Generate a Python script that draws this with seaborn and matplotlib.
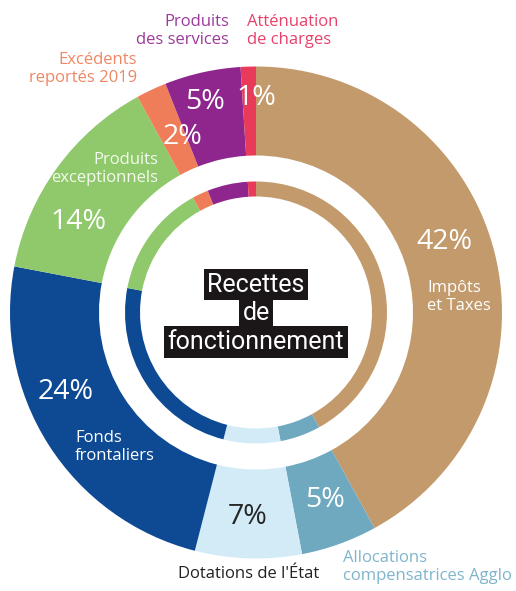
import matplotlib
matplotlib.use("Agg")
import matplotlib.pyplot as plt
import seaborn as sns

categories = ["Impôts et Taxes", "Allocations compensatrices Agglo", "Dotations de l'État",
              "Fonds frontaliers", "Produits exceptionnels", "Excédents reportés 2019",
              "Produits des services", "Atténuation de charges"]
values = [42, 5, 7, 24, 14, 2, 5, 1]
pct_labels = ["42%", "5%", "7%", "24%", "14%", "2%", "5%", "1%"]
colors = ["#c39a6c", "#6fa9c0", "#d3ebf6", "#0e4a94", "#8fc96b", "#ef7d5a", "#8e268d", "#ea3a5a"]

sns.set_theme(style="white")
plt.rcParams['font.family'] = ['Open Sans', 'DejaVu Sans']
palette = sns.color_palette(colors)

W, H = 516, 591
fig = plt.figure(figsize=(W / 100, H / 100), dpi=100)
ax = fig.add_axes([0, 0, 1, 1])

cx, cy = 256, 312.5
def Y(y):
    return H - y

ax.pie(values, colors=palette, startangle=90, counterclock=False, radius=246,
       center=(cx, Y(cy)), wedgeprops=dict(width=89, linewidth=0))
ax.pie(values, colors=palette, startangle=90, counterclock=False, radius=131,
       center=(cx, Y(cy)), wedgeprops=dict(width=15, linewidth=0))
ax.set_xlim(0, W)
ax.set_ylim(0, H)
ax.set_aspect('equal')
ax.axis('off')

# percentage labels (x, y in pixel coords from top)
pct_pos = [(444, 242), (325, 500), (248, 517), (66, 392), (78, 222), (182, 137), (205, 102), (256, 98)]
pct_colors = ["white", "white", "#262626", "white", "white", "white", "white", "white"]
for lab, (x, y), c in zip(pct_labels, pct_pos, pct_colors):
    ax.text(x, Y(y), lab, color=c, fontsize=20.5, ha='center', va='center')

# category labels
lab_fs = 12
def txt(x, y, s, color, ha):
    ax.text(x, Y(y), s, color=color, fontsize=lab_fs, ha=ha, va='center', linespacing=1.2)

txt(427, 297, "Impôts\net Taxes", "white", 'left')
txt(343, 567, "Allocations\ncompensatrices Agglo", "#7fb5cc", 'left')
txt(249, 574, "Dotations de l'État", "#222222", 'center')
txt(75, 447, "Fonds\nfrontaliers", "white", 'left')
txt(158, 169, "Produits\nexceptionnels", "#f4faee", 'right')
txt(137, 69, "Excédents\nreportés 2019", "#f08664", 'right')
txt(229, 31, "Produits\ndes services", "#9b3a9b", 'right')
txt(247, 31, "Atténuation\nde charges", "#e8416a", 'left')

# center title in black boxes
for s, y in [("Recettes", 284.5), ("de", 313.5), ("fonctionnement", 342)]:
    ax.text(cx, Y(y), s, color="white", fontsize=18, ha='center', va='center',
            family=['Roboto', 'DejaVu Sans'],
            bbox=dict(boxstyle='square,pad=0.15', facecolor='#1b1718', edgecolor='none'))

fig.savefig("out.png", dpi=100)
